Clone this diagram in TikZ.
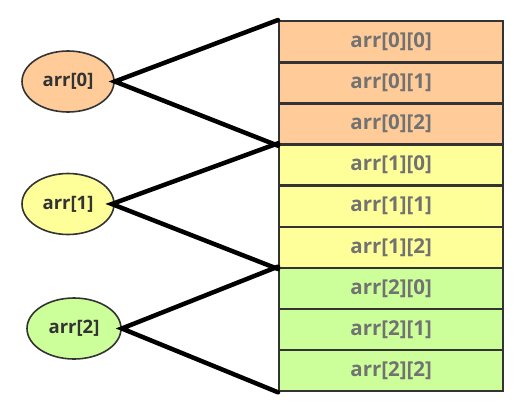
\documentclass[tikz,border=0pt]{standalone}
\usepackage{fontspec}
\setmainfont{Open Sans}
\usetikzlibrary{shapes.geometric}
\definecolor{orng}{HTML}{FFCC99}
\definecolor{yell}{HTML}{FFFF99}
\definecolor{grn}{HTML}{CCFF99}
\definecolor{bord}{HTML}{333333}
\definecolor{txtg}{HTML}{727272}
\tikzset{
  cell/.style={draw=bord, line width=2.4pt, minimum width=224pt, minimum height=41.1pt, inner sep=0pt, font=\fontsize{20.5}{23}\selectfont\bfseries, text=txtg, anchor=north west},
  elli/.style={ellipse, draw=bord, line width=1.6pt, minimum width=92pt, minimum height=61pt, inner sep=0pt, font=\fontsize{18.5}{22}\selectfont\bfseries, text=bord},
  conn/.style={line width=4.5pt, black, line cap=round}
}
\begin{document}
\begin{tikzpicture}[x=1pt,y=-1pt]
\useasboundingbox (0,0) rectangle (521,413);
\node[cell, fill=orng] (r00) at (278,20) {arr[0][0]};
\node[cell, fill=orng] (r01) at (278,61.1) {arr[0][1]};
\node[cell, fill=orng] (r02) at (278,102.2) {arr[0][2]};
\node[cell, fill=yell] (r10) at (278,143.3) {arr[1][0]};
\node[cell, fill=yell] (r11) at (278,184.4) {arr[1][1]};
\node[cell, fill=yell] (r12) at (278,225.5) {arr[1][2]};
\node[cell, fill=grn] (r20) at (278,266.6) {arr[2][0]};
\node[cell, fill=grn] (r21) at (278,307.7) {arr[2][1]};
\node[cell, fill=grn] (r22) at (278,348.8) {arr[2][2]};
\node[elli, fill=orng] (e0) at (68,81.5) {arr[0]};
\node[elli, fill=yell] (e1) at (68,204) {arr[1]};
\node[elli, fill=grn, minimum width=94pt] (e2) at (74,328.5) {arr[2]};
\draw[conn] (r00.north west) -- (e0.east) -- (r02.south west);
\draw[conn] (r10.north west) -- ([xshift=-3pt]e1.east) -- (r12.south west);
\draw[conn] (r20.north west) -- (e2.east) -- (r22.south west);
\end{tikzpicture}
\end{document}
